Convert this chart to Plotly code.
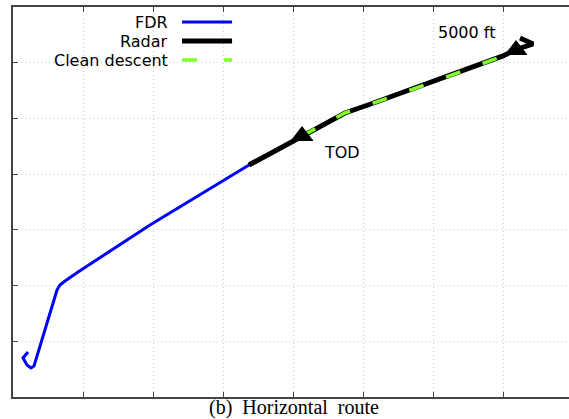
import plotly.graph_objects as go

# ---- data (in grid units) ----
fdr_x = [0.214, 0.143, 0.200, 0.257, 0.300, 0.629, 0.671, 0.743, 0.929, 1.957, 3.371, 4.029, 4.129]
fdr_y = [0.808, 0.700, 0.574, 0.521, 0.556, 1.921, 2.010, 2.082, 2.244, 3.087, 4.164, 4.613, 4.685]

radar_x = [3.371, 4.029, 4.129, 4.743, 5.071, 5.957, 7.000, 7.171, 7.429, 7.243]
radar_y = [4.164, 4.613, 4.685, 5.098, 5.241, 5.636, 6.121, 6.229, 6.336, 6.444]

clean_x = [4.129, 4.743, 5.071, 5.957, 7.000, 7.143]
clean_y = [4.685, 5.098, 5.241, 5.636, 6.121, 6.211]

marker_x = [4.129, 7.186]
marker_y = [4.685, 6.229]
marker_labels = ["TOD", "5000 ft"]

legend_names = ["FDR", "Radar", "Clean descent"]
caption = "(b)  Horizontal  route"

SANS = "DejaVu Sans"

fig = go.Figure()
fig.add_trace(go.Scatter(x=fdr_x, y=fdr_y, mode="lines", name=legend_names[0],
                         line=dict(color="#0000ff", width=3), showlegend=False))
fig.add_trace(go.Scatter(x=radar_x, y=radar_y, mode="lines", name=legend_names[1],
                         line=dict(color="#000000", width=5), showlegend=False))
fig.add_trace(go.Scatter(x=clean_x, y=clean_y, mode="lines", name=legend_names[2],
                         line=dict(color="#80ff2a", width=3.5, dash="15px,24px"), showlegend=False))
fig.add_trace(go.Scatter(x=marker_x, y=marker_y, mode="markers",
                         marker=dict(symbol="triangle-up", size=20, color="black",
                                     line=dict(width=0)),
                         showlegend=False))

# point labels
fig.add_annotation(x=4.414, y=4.38, text=marker_labels[0], showarrow=False,
                   xanchor="left", yanchor="middle", font=dict(family=SANS, size=16, color="black"))
fig.add_annotation(x=6.914, y=6.534, text=marker_labels[1], showarrow=False,
                   xanchor="right", yanchor="middle", font=dict(family=SANS, size=16, color="black"))

# manual legend (text left of sample line)
leg_y = [0.9615, 0.9128, 0.8641]
leg_styles = [dict(color="#0000ff", width=3),
              dict(color="#000000", width=5),
              dict(color="#80ff2a", width=3.5, dash="15px,27px")]
for name, yy, st in zip(legend_names, leg_y, leg_styles):
    fig.add_annotation(x=0.2824, y=yy, xref="paper", yref="paper", text=name, showarrow=False,
                       xanchor="right", yanchor="middle", font=dict(family=SANS, size=16, color="black"))
    fig.add_shape(type="line", xref="paper", yref="paper", x0=0.304, x1=0.394, y0=yy, y1=yy,
                  line=st)

fig.add_annotation(x=0.5045, y=-0.0282, xref="paper", yref="paper", text=caption, showarrow=False,
                   xanchor="center", yanchor="middle",
                   font=dict(family="Liberation Serif", size=20, color="black"))

axis_common = dict(showline=True, linecolor="#444444", linewidth=1.5,
                   ticks="inside", ticklen=5, tickcolor="#444444", tickwidth=1,
                   showticklabels=False, showgrid=True, gridcolor="#cccccc",
                   griddash="1px,3px", gridwidth=1, zeroline=False, dtick=1, tick0=0)

fig.update_xaxes(range=[0, 556 / 70], mirror="ticks", **axis_common)
fig.update_yaxes(range=[0, 7], mirror=False, **axis_common)

fig.update_layout(width=569, height=419, margin=dict(l=13, r=0, t=7, b=22),
                  paper_bgcolor="white", plot_bgcolor="white")

fig.write_html("out.html", config={"displayModeBar": False},
               post_script="document.body.style.margin='0';document.body.style.overflow='hidden';")
